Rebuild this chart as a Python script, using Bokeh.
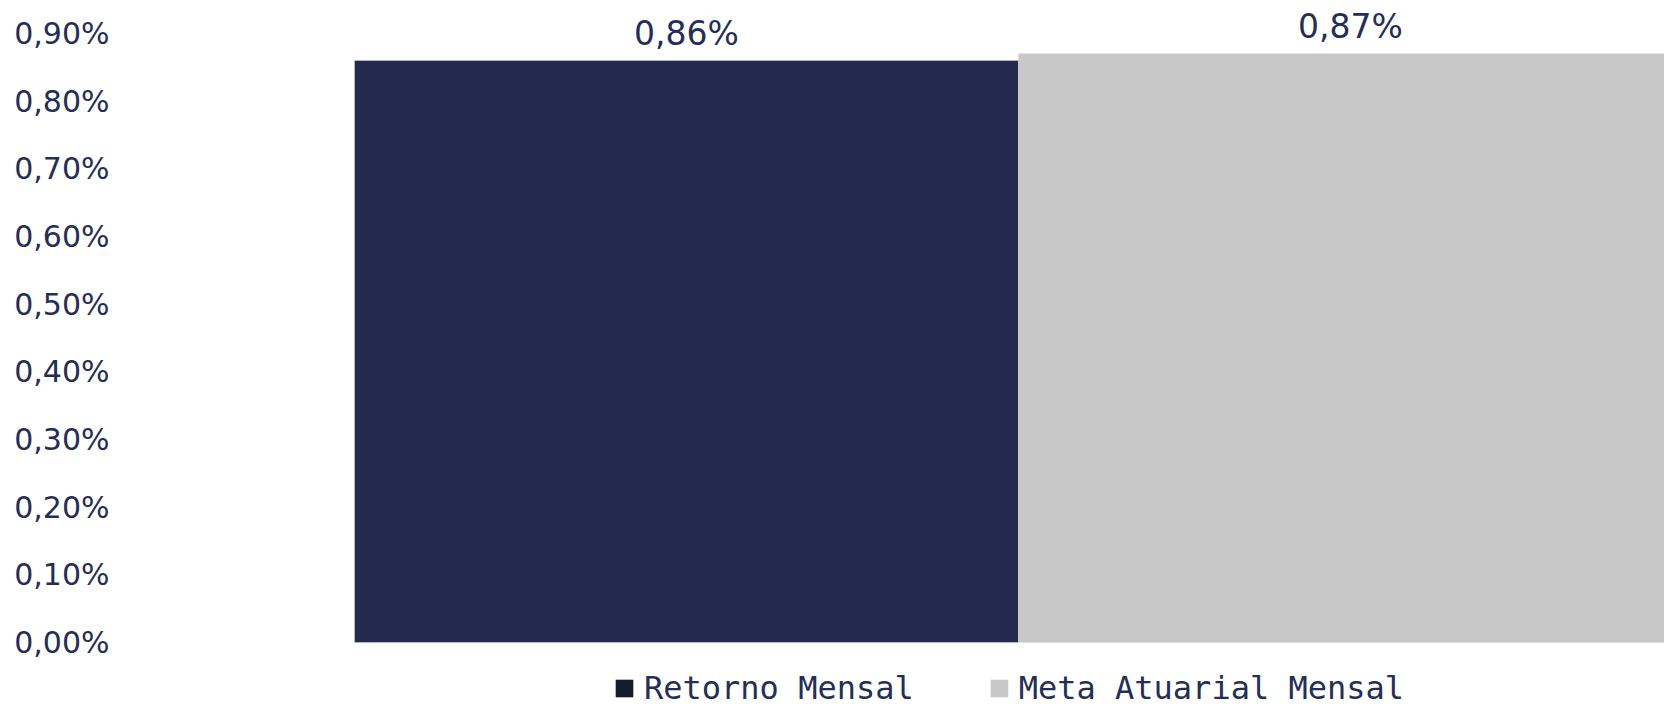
from bokeh.plotting import figure
from bokeh.models import (ColumnDataSource, Range1d, FixedTicker, LabelSet,
                          Legend, LegendItem)
from bokeh.core.properties import value
from bokeh.embed import file_html
from bokeh.resources import INLINE

# ---- data ----
categories = ["Retorno Mensal", "Meta Atuarial Mensal"]
values = [0.86, 0.87]
value_labels = ["0,86%", "0,87%"]
bar_colors = ["#232A4E", "#C8C8C8"]
legend_colors = ["#161A2E", "#C8C8C8"]
tick_values = [0.0, 0.1, 0.2, 0.3, 0.4, 0.5, 0.6, 0.7, 0.8, 0.9]
tick_labels = ["0,00%", "0,10%", "0,20%", "0,30%", "0,40%",
               "0,50%", "0,60%", "0,70%", "0,80%", "0,90%"]

TEXT = "#252E55"

xs = list(range(len(categories)))
src = ColumnDataSource(dict(x=xs, top=values, color=bar_colors,
                            label=value_labels))

p = figure(width=1664, height=707, output_backend="svg", toolbar_location=None,
           x_range=Range1d(-0.8524, 1.4729), y_range=Range1d(-0.0961, 0.9487),
           min_border_left=120, min_border_right=0, min_border_top=0,
           min_border_bottom=0)
p.outline_line_color = None
p.xgrid.visible = False
p.ygrid.visible = False
p.xaxis.visible = False

p.vbar(x="x", top="top", width=1.0, bottom=0, fill_color="color",
       line_color="#D8D8D8", line_alpha=0.5, line_width=1, source=src)

labels = LabelSet(x="x", y="top", text="label", source=src, y_offset=27,
                  text_align="center", text_baseline="middle",
                  text_font=value("DejaVu Sans"), text_font_size="33px",
                  text_color=TEXT)
p.add_layout(labels)

ya = p.yaxis[0]
ya.ticker = FixedTicker(ticks=tick_values)
ya.major_label_overrides = {v: l for v, l in zip(tick_values, tick_labels)}
ya.axis_line_color = None
ya.major_tick_line_color = None
ya.minor_tick_line_color = None
ya.major_label_standoff = 5
ya.major_label_text_font = "DejaVu Sans"
ya.major_label_text_font_size = "30px"
ya.major_label_text_color = TEXT

# legend swatches: zero-size bars (invisible in the plot) carrying legend colours
items = []
for i, (cat, col) in enumerate(zip(categories, legend_colors)):
    r = p.vbar(x=[xs[i]], top=[0], bottom=[0], width=0, fill_color=col,
               line_color=None)
    items.append(LegendItem(label=cat, renderers=[r]))

legend = Legend(items=items, orientation="horizontal", location=(493, 0),
                glyph_width=22, glyph_height=22, label_standoff=9, spacing=74,
                padding=0, margin=0, border_line_color=None,
                background_fill_alpha=0,
                label_text_font="DejaVu Sans Mono", label_text_font_size="32px",
                label_text_color=TEXT)
p.add_layout(legend)

open("out.html", "w").write(file_html(p, INLINE))
